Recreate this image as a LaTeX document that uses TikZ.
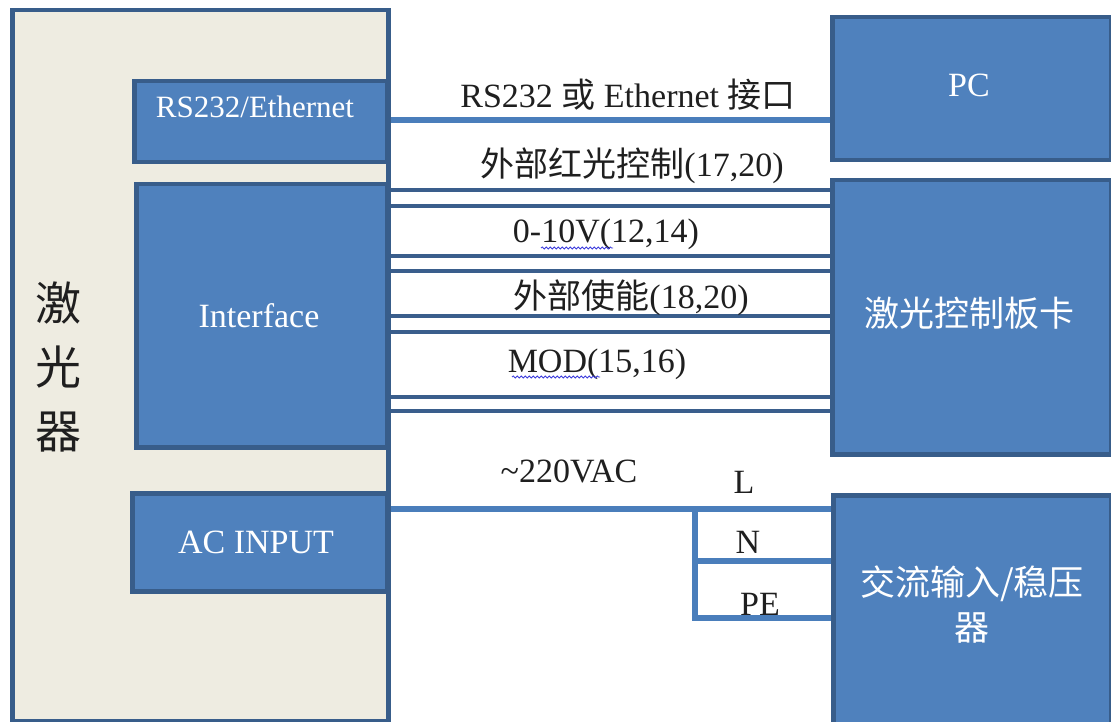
\documentclass[tikz,border=0pt]{standalone}
\usepackage{fontspec}
\setmainfont{Liberation Serif}
\newfontfamily\cjk{Noto Sans CJK SC}
\usetikzlibrary{decorations.pathmorphing}
\definecolor{boxfill}{RGB}{79,129,189}
\definecolor{boxline}{RGB}{56,93,138}
\definecolor{laserfill}{RGB}{238,236,225}
\definecolor{wire}{RGB}{74,126,187}
\definecolor{pairwire}{RGB}{58,94,140}
\definecolor{squig}{RGB}{60,60,220}
\pgfdeclarelayer{background}
\pgfsetlayers{background,main}
\begin{document}
\begin{tikzpicture}[x=1pt,y=-1pt,
  bluebox/.style={draw=boxline, fill=boxfill, line width=4.5pt, anchor=north west, inner sep=0pt},
  laserbox/.style={draw=boxline, fill=laserfill, line width=4.5pt, anchor=north west, inner sep=0pt},
  boxtext/.style={text=white, font=\fontsize{34}{40}\selectfont, inner sep=0pt, anchor=base},
  cjkbox/.style={text=white, font=\cjk\fontsize{35}{45}\selectfont, inner sep=0pt, align=center},
  lbl/.style={text=black!88, font=\fontsize{34}{40}\selectfont, inner sep=0pt, anchor=base},
  wireline/.style={draw=wire, line width=5.5pt},
  pairline/.style={draw=pairwire, line width=4.5pt},
  squiggle/.style={draw=squig, line width=0.8pt, decorate, decoration={snake, amplitude=1.1pt, segment length=4pt}}]
\useasboundingbox (0,0) rectangle (1111,722);
\begin{pgfonlayer}{background}
\fill[white] (0,0) rectangle (1111,722);
\end{pgfonlayer}

% laser block
\node[laserbox, minimum width=376pt, minimum height=711pt] (laser) at (10,8) {};
\node[text=black!88, font=\cjk\fontsize{46}{64}\selectfont, align=center, inner sep=0pt] (lasertext) at (58,367) {激\\光\\器};

\node[bluebox, minimum width=253pt, minimum height=81pt] (rsbox) at (132,79) {};
\node[boxtext, font=\fontsize{31}{36}\selectfont] (rstext) at (255,118) {RS232/Ethernet};

\node[bluebox, minimum width=251pt, minimum height=263pt] (iface) at (134,182) {};
\node[boxtext] (ifacetext) at (259,327) {Interface};

\node[bluebox, minimum width=255pt, minimum height=98pt] (acin) at (130,491) {};
\node[boxtext] (acintext) at (256,553) {AC INPUT};

% right blocks
\node[bluebox, minimum width=279pt, minimum height=143pt] (pc) at (830,15) {};
\node[boxtext] (pctext) at (969,97) {PC};

\node[bluebox, minimum width=279pt, minimum height=274pt] (card) at (830,178) {};
\node[cjkbox] (cardtext) at (969,313) {激光控制板卡};

\node[bluebox, minimum width=278pt, minimum height=236pt] (acbox) at (831,493) {};
\node[cjkbox] (acboxtext) at (972,605) {交流输入/稳压\\器};

% connectors
\coordinate (y120) at (0,120);
\begin{pgfonlayer}{background}
\draw[wireline] (rsbox.east |- y120) -- (pc.west |- y120);
\foreach \yy [count=\i] in {190,206,256,271,316,332,397,411} {
  \coordinate (p\i) at (0,\yy);
  \draw[pairline] (iface.east |- p\i) -- (card.west |- p\i);
}
\coordinate (jL) at (695,509);
\coordinate (jN) at (695,561);
\coordinate (jPE) at (695,618);
\draw[wireline] (acin.east |- jL) -- (acbox.west |- jL);
\draw[wireline] (jL) -- (jPE) -- (acbox.west |- jPE);
\draw[wireline] (jN) -- (acbox.west |- jN);
\end{pgfonlayer}

% labels
\node[lbl] (l1) at (628,108) {RS232 {\cjk 或} Ethernet {\cjk 接口}};
\node[lbl] (l2) at (632,177) {{\cjk 外部红光控制}(17,20)};
\node[lbl] (l3) at (606,243) {0-10V(12,14)};
\node[lbl] (l4) at (631,308) {{\cjk 外部使能}(18,20)};
\node[lbl] (l5) at (597,372) {MOD(15,16)};
\node[lbl] (l6) at (569,482) {\char`\~220VAC};
\node[lbl] (lL) at (744,493) {L};
\node[lbl] (lN) at (748,553) {N};
\node[lbl] (lPE) at (760,615) {PE};

% spell-check underlines
\draw[squiggle] (541,248) -- (613,248);
\draw[squiggle] (512,377) -- (600,377);
\end{tikzpicture}
\end{document}
